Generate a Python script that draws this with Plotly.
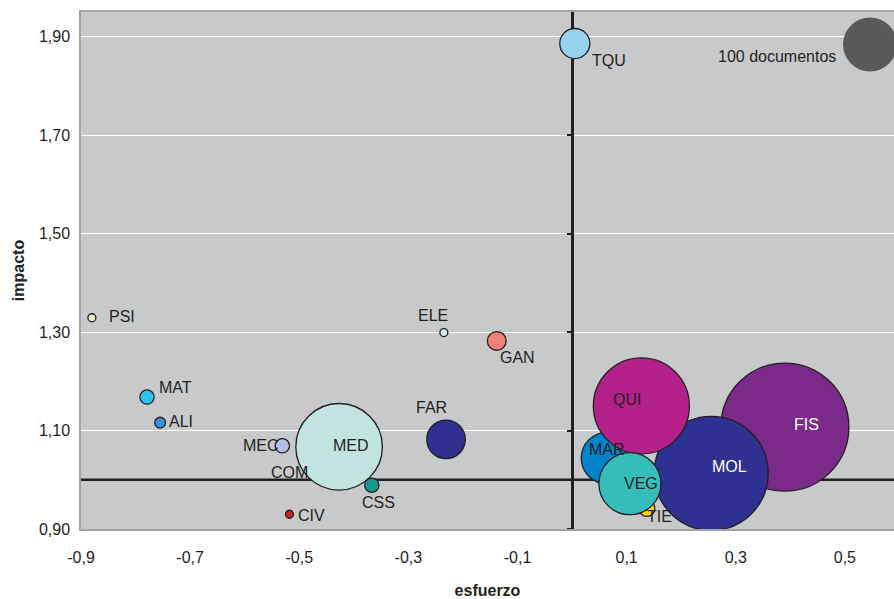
import plotly.graph_objects as go

# ---- data ----
areas = ["FIS", "MOL", "MAR", "QUI", "TIE", "VEG", "TQU", "COM", "MED", "CSS", "MEC",
         "FAR", "GAN", "ELE", "PSI", "MAT", "ALI", "CIV", "100 documentos"]
esfuerzo = [0.390, 0.255, 0.064, 0.127, 0.137, 0.106, 0.005, -0.466, -0.427, -0.367, -0.531,
            -0.231, -0.138, -0.235, -0.880, -0.779, -0.755, -0.518, 0.546]
impacto = [1.107, 1.013, 1.044, 1.150, 0.942, 0.992, 1.886, 1.004, 1.067, 0.989, 1.069,
           1.082, 1.282, 1.299, 1.329, 1.168, 1.116, 0.930, 1.884]
documentos = [562, 446, 91, 316, 9, 132, 31, 2, 257, 7, 7,
              51, 12, 1, 1, 7, 4, 2, 100]

x_ticks = [-0.9, -0.7, -0.5, -0.3, -0.1, 0.1, 0.3, 0.5]
x_ticklabels = ["-0,9", "-0,7", "-0,5", "-0,3", "-0,1", "0,1", "0,3", "0,5"]
y_ticks = [0.9, 1.1, 1.3, 1.5, 1.7, 1.9]
y_ticklabels = ["0,90", "1,10", "1,30", "1,50", "1,70", "1,90"]

# ---- styles ----
colors = {
    "FIS": "#7B2A8A", "MOL": "#2E3192", "MAR": "#0083CA", "QUI": "#B5218A",
    "TIE": "#F5D800", "VEG": "#35BDB9", "TQU": "#96D2EE", "COM": "#E8E8E8",
    "MED": "#C2E4E0", "CSS": "#159A8C", "MEC": "#B3BFE6", "FAR": "#2E3192",
    "GAN": "#F4827A", "ELE": "#CDEFF5", "PSI": "#E6F0C0", "MAT": "#2CC4EC",
    "ALI": "#3D8FD6", "CIV": "#C1272D", "100 documentos": "#58595B",
}
# label offsets (px, text centre relative to bubble centre; dy positive = down)
label_offsets = {
    "FIS": (22, -3), "MOL": (18, -7), "MAR": (0, -9), "QUI": (-14, -6),
    "TIE": (13, 8), "VEG": (11, 0), "TQU": (34, 17), "COM": (-28, -5),
    "MED": (12, -1), "CSS": (7, 17), "MEC": (-21, 0), "FAR": (-15, -32),
    "GAN": (21, 17), "ELE": (-11, -17), "PSI": (30, -1), "MAT": (28, -10),
    "ALI": (21, -1), "CIV": (22, 1), "100 documentos": (-93, 12),
}
white_labels = {"FIS", "MOL"}
ink = "#231F20"
font_family = "Liberation Sans, Arial, sans-serif"

x_range = [-0.9, 0.59]
y_range = [0.9, 1.95]
ref_docs, ref_diameter = 100, 54  # a 100-document bubble is ~54 px across

line_colors = [("rgba(0,0,0,0)" if a == "100 documentos" else ink) for a in areas]

fig = go.Figure()
fig.add_trace(go.Scatter(
    x=esfuerzo, y=impacto, mode="markers",
    marker=dict(
        size=documentos, sizemode="area",
        sizeref=2 * ref_docs / (ref_diameter ** 2), sizemin=4,
        color=[colors[a] for a in areas],
        line=dict(color=line_colors, width=1.3),
        opacity=1,
    ),
    cliponaxis=True, hoverinfo="text", text=areas, showlegend=False,
))
# invisible trace to keep the secondary (x = 0) axis alive
fig.add_trace(go.Scatter(x=[0], y=[1.0], yaxis="y2", mode="markers",
                         marker=dict(opacity=0), showlegend=False, hoverinfo="skip"))

annotations = []
for a, xv, yv in zip(areas, esfuerzo, impacto):
    dx, dy = label_offsets[a]
    annotations.append(dict(
        x=xv, y=yv, xref="x", yref="y", text=a, showarrow=False,
        xanchor="center", yanchor="middle", xshift=dx, yshift=-dy,
        font=dict(family=font_family, size=16,
                  color="white" if a in white_labels else ink),
    ))

zero_pos = (0 - x_range[0]) / (x_range[1] - x_range[0])

fig.update_layout(
    width=894, height=599,
    margin=dict(l=81, r=0, t=12, b=70, autoexpand=False),
    paper_bgcolor="white", plot_bgcolor="#C8C9CB",
    font=dict(family=font_family, size=16, color=ink),
    annotations=annotations,
    xaxis=dict(
        range=x_range, tickvals=x_ticks, ticktext=x_ticklabels, automargin=False,
        showgrid=False, zeroline=False,
        showline=True, linecolor="#A3A4A6", linewidth=1.5, mirror=True,
        ticks="outside", ticklen=13, tickcolor="rgba(0,0,0,0)",
        tickfont=dict(size=16, color=ink),
        title=dict(text="<b>esfuerzo</b>", font=dict(size=16, color=ink), standoff=22),
    ),
    yaxis=dict(
        range=y_range, tickvals=y_ticks, ticktext=y_ticklabels, automargin=False,
        showgrid=True, gridcolor="white", gridwidth=1.2, zeroline=False,
        showline=True, linecolor="#A3A4A6", linewidth=1.5,
        ticks="outside", ticklen=6, tickcolor="rgba(0,0,0,0)",
        tickfont=dict(size=16, color=ink),
        title=dict(text="<b>impacto</b>", font=dict(size=16, color=ink), standoff=10),
    ),
    yaxis2=dict(
        range=y_range, overlaying="y", anchor="free", position=zero_pos, side="left",
        tickvals=y_ticks, showticklabels=False, showgrid=False, zeroline=False,
        automargin=False,
        showline=True, linecolor=ink, linewidth=2.5,
        ticks="outside", ticklen=4, tickwidth=2, tickcolor=ink,
        layer="below traces",
    ),
    shapes=[dict(type="line", xref="x domain", yref="y", x0=0, x1=1, y0=1.0, y1=1.0,
                 line=dict(color=ink, width=2.5), layer="below")],
)

fig.write_html(
    "out.html",
    config={"displayModeBar": False},
    post_script="document.body.style.margin='0';document.body.style.overflow='hidden';",
)
